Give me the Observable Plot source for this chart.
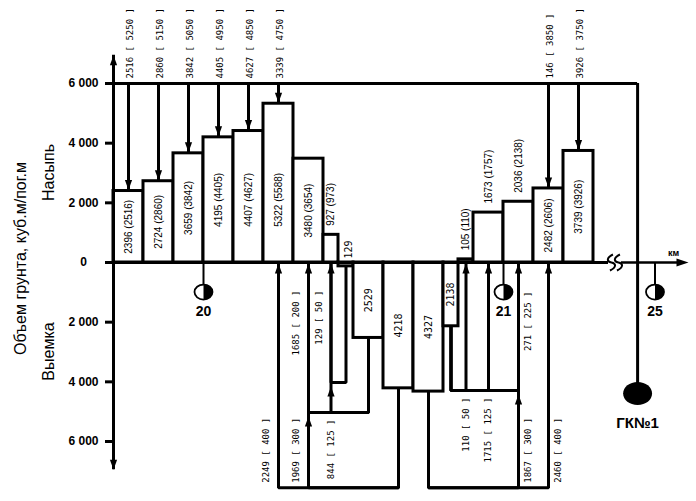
<!DOCTYPE html>
<html><head><meta charset="utf-8">
<script src="https://cdn.jsdelivr.net/npm/d3@7"></script>
<script src="https://cdn.jsdelivr.net/npm/@observablehq/plot@0.6"></script>
<style>body{margin:0;background:#fff}</style>
</head><body><div id="chart"></div>
<script>
// ---- DATA ----
// pickets: section length (m), balanced volume, volume with coefficient (fill only)
const sectionLength = [100,100,100,100,100,100,100,50,50,100,100,100,50,50,100,100,100,100];
const volume        = [2396,2724,3659,4195,4407,5322,3480,927,-129,-2529,-4218,-4327,-2138,105,1673,2036,2482,3739];
const volumeCoef    = [2516,2860,3842,4405,4627,5588,3654,973,null,null,null,null,null,110,1757,2138,2606,3926];

// supply from borrow pit ГК№1 (top)
const reserveTarget   = [0,1,2,3,4,5,16,17];
const reserveVolume   = [2516,2860,3842,4405,4627,3339,146,3926];
const reserveDistance = [5250,5150,5050,4950,4850,4750,3850,3750];
const reserveLevel = 6000;

// longitudinal transfers cut -> fill (bottom)
const flowFrom     = [10,10,9,9,8,11,11,12,12,12];
const flowTo       = [5,6,6,7,7,16,15,13,14,15];
const flowVolume   = [2249,1969,1685,844,129,2460,1867,110,1715,271];
const flowDistance = [400,300,200,125,50,400,300,50,125,225];
const flowDepth    = [-7550,-7550,-5030,-5030,-4020,-7550,-7550,-4290,-4290,-4290];
const flowLabelMode = ["lowL","lowL","highL","under","highL","lowR","lowR","under","under","highR"];

// kilometre posts and borrow pit
const kmLabel = ["20","21","25"];
const kmPosition = [300,1300,1805];
const gkLabel = "ГК№1";
const gkPosition = 1747;
const gkDepth = -4390;
const axisBreak = [1650,1693];
const axisEnd = 1890;
const yTicks = [-6000,-4000,-2000,0,2000,4000,6000];

// ---- DERIVED ----
const cum = d3.cumsum([0, ...sectionLength]);
const bars = volume.map((v,i)=>({i, x1: cum[i], x2: cum[i+1], cx: (cum[i]+cum[i+1])/2, v, v2: volumeCoef[i]}));
const reserve = reserveTarget.map((t,i)=>({x: bars[t].cx, v: bars[t].v, vol: reserveVolume[i], dist: reserveDistance[i]}));
const flows = flowVolume.map((vol,i)=>({id:i, from: flowFrom[i], to: flowTo[i], vol, dist: flowDistance[i], depth: flowDepth[i], mode: flowLabelMode[i], x: bars[flowTo[i]].cx}));
const flowPoints = flows.flatMap(f=>[
  {id:f.id, x: bars[f.from].cx, y: bars[f.from].v},
  {id:f.id, x: bars[f.from].cx, y: f.depth},
  {id:f.id, x: bars[f.to].cx, y: f.depth},
  {id:f.id, x: bars[f.to].cx, y: 0}
]);
const upTargets = Array.from(new Set(flows.map(f=>f.to))).map(t=>({x: bars[t].cx, y: 0}));
const junctions = [];
flows.forEach(f=>{
  const shallower = flows.filter(g=>g.to===f.to && g.depth>f.depth);
  if (shallower.length) junctions.push({x: bars[f.to].cx, y: d3.max(shallower, g=>g.depth)});
});
const kms = kmLabel.map((l,i)=>({label:l, x: kmPosition[i]}));
const fmt = d3.formatLocale({thousands:" ", grouping:[3], currency:["",""], decimal:"."}).format(",");

// ---- SCALE LAYOUT ----
const W = 696, H = 501, X0 = 113, PXM = 0.3, Y0 = 262, PXV = 179/6000;

// ---- SYMBOLS ----
const K = 0.5523;
function ell(c, rx, ry){c.moveTo(rx,0);c.bezierCurveTo(rx,ry*K,rx*K,ry,0,ry);c.bezierCurveTo(-rx*K,ry,-rx,ry*K,-rx,0);c.bezierCurveTo(-rx,-ry*K,-rx*K,-ry,0,-ry);c.bezierCurveTo(rx*K,-ry,rx,-ry*K,rx,0);c.closePath();}
const arrowUp = {draw(c){c.moveTo(0,0);c.lineTo(3.6,10);c.lineTo(-3.6,10);c.closePath();}};
const arrowDown = {draw(c){c.moveTo(0,0);c.lineTo(-3.6,-10);c.lineTo(3.6,-10);c.closePath();}};
const arrowRight = {draw(c){c.moveTo(0,0);c.lineTo(-12,-4);c.lineTo(-12,4);c.closePath();}};
const gkSym = {draw(c){ell(c,14.5,11.5);}};
const kmSym = {draw(c){ell(c,9,7.5);}};
const kmHalf = {draw(c){c.moveTo(0,-7.5);c.bezierCurveTo(9*K,-7.5,9,-7.5*K,9,0);c.bezierCurveTo(9,7.5*K,9*K,7.5,0,7.5);c.closePath();}};
const breakSym = {draw(c){
  for (const ox of [-3.5, 3.5]) {
    c.moveTo(ox+1.5, -8);
    c.bezierCurveTo(ox-5, -5, ox-5, -1, ox, 0);
    c.bezierCurveTo(ox+5, 1, ox+5, 5, ox-1.5, 8);
  }
}};

const SW = 3;
const mono = "DejaVu Sans Mono";
const sans = "Liberation Sans, Arial, sans-serif";

const fillBars = bars.filter(b=>b.v>0);
const cutBars = bars.filter(b=>b.v<0);
const barText = b => b.v2 != null ? `${Math.abs(b.v)} (${b.v2})` : `${Math.abs(b.v)}`;

const chart = Plot.plot({
  width: W, height: H, margin: 0,
  x: {domain: [-X0/PXM, (W-X0)/PXM], range: [0, W], axis: null},
  y: {domain: [-(H-Y0)/PXV, Y0/PXV], range: [H, 0], axis: null},
  style: {background: "#fff"},
  marks: [
    // borrow pit supply
    Plot.ruleY([reserveLevel], {x1: 0, x2: gkPosition, stroke: "#000", strokeWidth: SW}),
    Plot.ruleX(reserve, {x: "x", y1: reserveLevel, y2: "v", stroke: "#000", strokeWidth: SW}),
    Plot.ruleX([gkPosition], {x: d=>d, y1: reserveLevel, y2: gkDepth, stroke: "#000", strokeWidth: SW}),
    // transfers
    Plot.line(flowPoints, {x: "x", y: "y", z: "id", stroke: "#000", strokeWidth: SW, strokeLinejoin: "miter", strokeLinecap: "square", curve: "linear"}),
    // bars
    Plot.rect(bars, {x1: "x1", x2: "x2", y1: 0, y2: "v", fill: "#fff", stroke: "#000", strokeWidth: SW}),
    // axes
    Plot.ruleX([0], {x: d=>d, y1: -6950, y2: 6950, stroke: "#000", strokeWidth: SW}),
    Plot.ruleY([0], {y: d=>d, x1: -8/PXM, x2: axisBreak[0], stroke: "#000", strokeWidth: SW}),
    Plot.ruleY([0], {y: d=>d, x1: axisBreak[1], x2: axisEnd, stroke: "#000", strokeWidth: 2.5}),
    Plot.ruleY(yTicks, {y: d=>d, x1: -8/PXM, x2: 0, stroke: "#000", strokeWidth: SW}),
    Plot.dot([6950], {x: ()=>0, y: d=>d, symbol: arrowUp, fill: "#000", stroke: null}),
    Plot.dot([-6950], {x: ()=>0, y: d=>d, symbol: arrowDown, fill: "#000", stroke: null}),
    Plot.dot([axisEnd], {x: d=>d, y: ()=>0, symbol: arrowRight, fill: "#000", stroke: null, dx: 8}),
    Plot.dot([(axisBreak[0]+axisBreak[1])/2], {x: d=>d, y: ()=>0, symbol: breakSym, fill: "none", stroke: "#000", strokeWidth: 2}),
    // km posts
    Plot.ruleX(kms, {x: "x", y1: 0, y2: -990, stroke: "#000", strokeWidth: 2}),
    Plot.dot(kms, {x: "x", y: ()=>-990, symbol: kmSym, fill: "#fff", stroke: "#000", strokeWidth: 1.8}),
    Plot.dot(kms, {x: "x", y: ()=>-990, symbol: kmHalf, fill: "#000", stroke: null}),
    Plot.text(kms, {x: "x", y: ()=>-990, text: "label", dy: 19, fontSize: 14, fontWeight: "bold", fontFamily: sans}),
    Plot.dot([gkPosition], {x: d=>d, y: ()=>gkDepth, symbol: gkSym, fill: "#000", stroke: null}),
    Plot.text([gkLabel], {x: ()=>gkPosition, y: ()=>gkDepth, text: d=>d, dy: 30, fontSize: 15, fontWeight: "bold", fontFamily: sans}),
    // arrows
    Plot.dot(reserve, {x: "x", y: "v", symbol: arrowDown, fill: "#000", stroke: null, dy: -1}),
    Plot.dot(upTargets, {x: "x", y: "y", symbol: arrowUp, fill: "#000", stroke: null, dy: 1}),
    Plot.dot(junctions, {x: "x", y: "y", symbol: arrowUp, fill: "#000", stroke: null, dy: 4}),
    // km label
    Plot.text(["км"], {x: ()=>axisEnd, y: ()=>0, text: d=>d, dx: -7, dy: -9, fontSize: 9, fontWeight: "bold", fontFamily: sans}),
    // y tick labels
    Plot.text(yTicks, {x: ()=>0, y: d=>d, text: d=>fmt(Math.abs(d)), dx: -30, fontSize: 12, fontWeight: "bold", fontFamily: sans}),
    // axis titles
    Plot.text(["Объем грунта, куб.м/пог.м"], {x: ()=>0, y: ()=>0, text: d=>d, rotate: -90, dx: -93, dy: -4, fontSize: 16, fontFamily: sans}),
    Plot.text(["Насыпь"], {x: ()=>0, y: ()=>0, text: d=>d, rotate: -90, dx: -65, dy: -90, fontSize: 16, fontFamily: sans}),
    Plot.text(["Выемка"], {x: ()=>0, y: ()=>0, text: d=>d, rotate: -90, dx: -65, dy: 89, fontSize: 16, fontFamily: sans}),
    // bar labels
    Plot.text(fillBars.filter(b=>b.v>=2200), {x: "cx", y: b=>Math.min(b.v/2, 2100), text: barText, rotate: -90, fontSize: 10, fontFamily: sans}),
    Plot.text(fillBars.filter(b=>b.v<2200), {x: "cx", y: "v", text: barText, rotate: -90, textAnchor: "start", dy: -9, fontSize: 10, fontFamily: sans}),
    Plot.text(cutBars.filter(b=>b.v>-300), {x: "cx", y: ()=>0, text: barText, rotate: -90, textAnchor: "start", dy: -4, dx: 3, fontSize: 10, fontFamily: mono}),
    Plot.text(cutBars.filter(b=>b.v<=-300), {x: "cx", y: b=>Math.max(b.v/2, -2370), text: barText, rotate: -90, fontSize: 10, fontFamily: mono}),
    // supply labels
    Plot.text(reserve, {x: "x", y: ()=>reserveLevel, text: d=>`${d.vol} [ ${d.dist} ]`, rotate: -90, textAnchor: "start", dx: 2, dy: -5, fontSize: 9, fontFamily: mono}),
    // transfer labels
    Plot.text(flows.filter(f=>f.mode==="lowL"), {x: "x", y: "depth", text: d=>`${d.vol} [ ${d.dist} ]`, rotate: -90, textAnchor: "start", dx: -12, dy: -5, fontSize: 9, fontFamily: mono}),
    Plot.text(flows.filter(f=>f.mode==="lowR"), {x: "x", y: "depth", text: d=>`${d.vol} [ ${d.dist} ]`, rotate: -90, textAnchor: "start", dx: 10, dy: -5, fontSize: 9, fontFamily: mono}),
    Plot.text(flows.filter(f=>f.mode==="highL"), {x: "x", y: ()=>0, text: d=>`${d.vol} [ ${d.dist} ]`, rotate: -90, textAnchor: "end", dx: -12, dy: 28, fontSize: 9, fontFamily: mono}),
    Plot.text(flows.filter(f=>f.mode==="highR"), {x: "x", y: ()=>0, text: d=>`${d.vol} [ ${d.dist} ]`, rotate: -90, textAnchor: "end", dx: 10, dy: 29, fontSize: 9, fontFamily: mono}),
    Plot.text(flows.filter(f=>f.mode==="under"), {x: "x", y: "depth", text: d=>`${d.vol} [ ${d.dist} ]`, rotate: -90, textAnchor: "end", dy: 7, fontSize: 9, fontFamily: mono})
  ]
});
document.getElementById("chart").appendChild(chart);
</script>
</body></html>
